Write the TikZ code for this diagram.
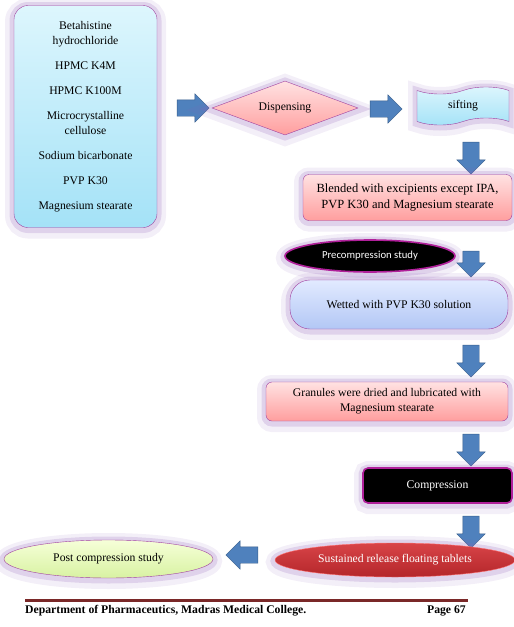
\documentclass[tikz,border=0pt]{standalone}
\usepackage{fontspec}
\setmainfont{Liberation Serif}
\newfontfamily\calibri{Carlito}
\usetikzlibrary{shapes.geometric,shapes.arrows,shapes.symbols}

\definecolor{edgepurple}{HTML}{A040A0}
\definecolor{glowpurple}{HTML}{8E5FB8}
\definecolor{arrowblue}{HTML}{4F81BD}
\definecolor{arrowedge}{HTML}{385D8A}
\definecolor{magentaedge}{HTML}{B0209A}
\definecolor{footred}{HTML}{7A2828}
\definecolor{cyantop}{HTML}{DDF6FD}
\definecolor{cyanbot}{HTML}{A4E2F7}
\definecolor{pinktop}{HTML}{FFE2E2}
\definecolor{pinkbot}{HTML}{FF9E9E}
\definecolor{bluetop}{HTML}{E2EAFF}
\definecolor{bluebot}{HTML}{B2C7F5}
\definecolor{redtop}{HTML}{D84448}
\definecolor{redbot}{HTML}{B4262A}
\definecolor{limetop}{HTML}{F6FFD8}
\definecolor{limebot}{HTML}{D8F2A2}

\tikzset{
  glow/.style={preaction={draw=glowpurple, line width=18pt, opacity=0.10, transform canvas={yshift=-2pt}},
               preaction={draw=glowpurple, line width=9pt, opacity=0.20, transform canvas={yshift=-1pt}}},
  cyanbox/.style={glow, draw=edgepurple, top color=cyantop, bottom color=cyanbot},
  pinkbox/.style={glow, draw=edgepurple, top color=pinktop, bottom color=pinkbot},
  blackbox/.style={glow, draw=magentaedge, line width=1.6pt, fill=black, text=white},
  blockarrow/.style={single arrow, draw=arrowedge, fill=arrowblue, inner sep=8pt,
               minimum width=28pt, minimum height=32pt,
               single arrow head extend=6pt, single arrow head indent=0pt},
}

\begin{document}
\begin{tikzpicture}[x=1pt, y=-1pt, font=\fontsize{11.7}{15}\selectfont]
	\useasboundingbox (0,0) rectangle (514,627);

	% ingredients
	\node[cyanbox, rounded corners=14pt, minimum width=143pt, minimum height=222pt, align=center]
		(ingr) at (85.5,116.5)
		{Betahistine\\hydrochloride\\[10pt]HPMC K4M\\[10pt]HPMC K100M\\[10pt]Microcrystalline\\cellulose\\[10pt]Sodium bicarbonate\\[10pt]PVP K30\\[10pt]Magnesium stearate};

	\node[blockarrow] (arrA) at (189,108) {};
	\node[pinkbox, diamond, aspect=2.7, inner sep=0pt, minimum width=146pt, minimum height=54pt]
		(disp) at (285,108) {Dispensing};
	\node[blockarrow] (arrB) at (382,109) {};
	\node[cyanbox, tape, tape bend height=7pt, minimum width=92pt, minimum height=38pt] (sift) at (463,106) {sifting};

	\node[blockarrow, shape border rotate=270] (arrC) at (471,154) {};
	\node[pinkbox, rounded corners=6pt, minimum width=209pt, minimum height=46pt, align=center,
		font=\fontsize{12.5}{16.5}\selectfont]
		(blend) at (407.5,197.5) {Blended with excipients except IPA,\\PVP K30 and Magnesium stearate};

	\node[blackbox, ellipse, minimum width=170pt, minimum height=32pt, font=\calibri\fontsize{10.7}{12}\selectfont]
		(pre) at (370,256) {Precompression study};
	\node[blockarrow, shape border rotate=270, minimum height=26pt] (arrD) at (471,260) {};

	\node[glow, draw=edgepurple, top color=bluetop, bottom color=bluebot, rounded corners=20pt,
		minimum width=218pt, minimum height=49pt] (wet) at (399,304.5) {Wetted with PVP K30 solution};
	\node[blockarrow, shape border rotate=270] (arrE) at (471,357) {};

	\node[pinkbox, rounded corners=6pt, minimum width=242pt, minimum height=39pt, align=center]
		(gran) at (387,401.5) {Granules were dried and lubricated with\\Magnesium stearate};
	\node[blockarrow, shape border rotate=270] (arrF) at (471,446) {};

	\node[blackbox, rounded corners=5pt, minimum width=149pt, minimum height=35pt]
		(comp) at (437.5,485.5) {Compression};
	\node[blockarrow, shape border rotate=270] (arrG) at (471,528) {};

	\node[glow, ellipse, draw=red!55!white, top color=redtop, bottom color=redbot, text=white,
		minimum width=240pt, minimum height=34pt] (sust) at (395,560) {Sustained release floating tablets};
	\node[blockarrow, shape border rotate=180] (arrH) at (246,555) {};
	\node[glow, ellipse, draw=edgepurple, top color=limetop, bottom color=limebot,
		minimum width=209pt, minimum height=38pt] (post) at (108.5,559) {Post compression study};

	% footer
	\draw[footred, line width=3pt] (25,600) -- (468,600);
	\node[anchor=west, inner sep=0pt, font=\bfseries\fontsize{11.7}{13}\selectfont] (dept) at (25,611)
		{Department of Pharmaceutics, Madras Medical College.};
	\node[anchor=east, inner sep=0pt, font=\bfseries\fontsize{11.7}{13}\selectfont] (page) at (466,611) {Page 67};
\end{tikzpicture}
\end{document}
